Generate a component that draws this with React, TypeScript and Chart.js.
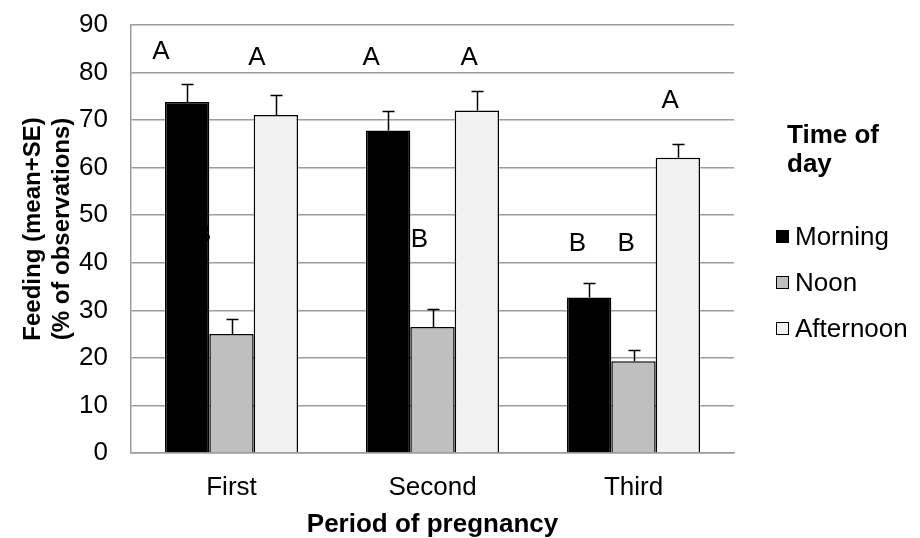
import React, { useEffect, useRef } from "react";
import { Chart, registerables } from "chart.js";

Chart.register(...registerables);

// ---- data ----
const categories = ["First", "Second", "Third"];
const seriesNames = ["Morning", "Noon", "Afternoon"];
const morning = [73.8, 67.8, 32.7];
const noon = [25.0, 26.5, 19.3];
const afternoon = [71.1, 72.0, 62.1];
const morningSE = [3.7, 4.2, 3.0];
const noonSE = [3.1, 3.7, 2.4];
const afternoonSE = [4.1, 4.1, 2.8];
const morningLetters = ["A", "A", "B"];
const noonLetters = ["B", "B", "B"];
const afternoonLetters = ["A", "A", "A"];
const yMin = 0;
const yMax = 90;
const yStep = 10;
const xTitle = "Period of pregnancy";
const yTitleLines = ["Feeding (mean+SE)", "(% of observations)"];
const legendTitleLines = ["Time of", "day"];

// ---- letter annotation placement (dx in category widths, y in axis units) ----
const letterPlacement = [
  [{ dx: -0.351, y: 84.3 }, { dx: -0.305, y: 83.2 }, { dx: -0.279, y: 43.9 }],
  [{ dx: -0.144, y: 45.8 }, { dx: -0.065, y: 44.9 }, { dx: -0.037, y: 43.9 }],
  [{ dx: 0.127, y: 83.2 }, { dx: 0.182, y: 83.2 }, { dx: 0.182, y: 74.0 }],
];

const FONT = "'Liberation Sans', Arial, Helvetica, sans-serif";
const colors = ["#000000", "#bfbfbf", "#f2f2f2"];
const gridColor = "#9c9c9c";

export default function App() {
  const ref = useRef<HTMLCanvasElement>(null);

  useEffect(() => {
    const canvas = ref.current;
    if (!canvas) return;
    const seArrays = [morningSE, noonSE, afternoonSE];
    const letterArrays = [morningLetters, noonLetters, afternoonLetters];

    const lettersPlugin = {
      id: "letters",
      beforeDatasetsDraw(chart: any) {
        const { ctx } = chart;
        const xs = chart.scales.x;
        const ys = chart.scales.y;
        const catW = xs.width / categories.length;
        ctx.save();
        ctx.fillStyle = "#000";
        ctx.font = `26px ${FONT}`;
        ctx.textAlign = "center";
        ctx.textBaseline = "middle";
        letterArrays.forEach((arr, i) => {
          arr.forEach((txt, j) => {
            const p = letterPlacement[i][j];
            const px = xs.getPixelForValue(j) + p.dx * catW;
            const py = ys.getPixelForValue(p.y);
            ctx.fillText(txt, px, py);
          });
        });
        ctx.restore();
      },
    };

    const errorPlugin = {
      id: "errorBars",
      afterDatasetsDraw(chart: any) {
        const { ctx } = chart;
        const ys = chart.scales.y;
        ctx.save();
        ctx.strokeStyle = "#000";
        ctx.lineWidth = 1.5;
        chart.data.datasets.forEach((ds: any, i: number) => {
          const meta = chart.getDatasetMeta(i);
          meta.data.forEach((bar: any, j: number) => {
            const v = ds.data[j] as number;
            const top = ys.getPixelForValue(v + seArrays[i][j]);
            const x = Math.round(bar.x) + 0.5;
            const t = Math.round(top) + 0.5;
            ctx.beginPath();
            ctx.moveTo(x, bar.y);
            ctx.lineTo(x, t);
            ctx.moveTo(x - 6, t);
            ctx.lineTo(x + 6, t);
            ctx.stroke();
          });
        });
        ctx.restore();
      },
    };

    const decorPlugin = {
      id: "decor",
      afterDraw(chart: any) {
        const { ctx, chartArea } = chart;
        ctx.save();
        ctx.fillStyle = "#000";
        // y title
        ctx.font = `bold 24px ${FONT}`;
        ctx.textAlign = "center";
        ctx.textBaseline = "middle";
        const cy = (chartArea.top + chartArea.bottom) / 2 - 10;
        yTitleLines.forEach((line, k) => {
          ctx.save();
          ctx.translate(33.5 + k * 29, cy);
          ctx.rotate(-Math.PI / 2);
          ctx.fillText(line, 0, 0);
          ctx.restore();
        });
        // legend
        const lx = chartArea.right + 53;
        ctx.font = `bold 26px ${FONT}`;
        ctx.textAlign = "left";
        ctx.textBaseline = "alphabetic";
        legendTitleLines.forEach((line, k) => {
          ctx.fillText(line, lx, 143 + k * 29);
        });
        ctx.font = `26px ${FONT}`;
        ctx.textBaseline = "middle";
        chart.data.datasets.forEach((ds: any, i: number) => {
          const cyi = 236.5 + i * 46;
          ctx.fillStyle = ds.backgroundColor;
          ctx.fillRect(lx - 11, cyi - 6.5, 13, 13);
          ctx.strokeStyle = "#000";
          ctx.lineWidth = 1;
          ctx.strokeRect(lx - 10.5, cyi - 6, 12, 12);
          ctx.fillStyle = "#000";
          ctx.fillText(ds.label, lx + 8, cyi + 1);
        });
        ctx.restore();
      },
    };

    const chart = new Chart(canvas, {
      type: "bar",
      data: {
        labels: categories,
        datasets: [morning, noon, afternoon].map((d, i) => ({
          label: seriesNames[i],
          data: d,
          backgroundColor: colors[i],
          borderColor: "#000",
          borderWidth: 1.5,
          categoryPercentage: 0.662,
          barPercentage: 1,
        })),
      },
      options: {
        responsive: false,
        animation: false,
        devicePixelRatio: 1,
        layout: { padding: { left: 0, top: 25, right: 186, bottom: 0 } },
        plugins: {
          legend: { display: false },
          tooltip: { enabled: false },
        },
        scales: {
          x: {
            grid: { display: false, drawTicks: false },
            border: { display: true, color: gridColor, width: 1.5 },
            ticks: {
              color: "#000",
              font: { family: FONT, size: 26, lineHeight: 1.2 },
              padding: 19,
            },
            title: {
              display: true,
              text: xTitle,
              color: "#000",
              font: { family: FONT, size: 26, weight: "bold", lineHeight: 1 },
              padding: 0,
            },
            afterFit(scale: any) {
              scale.height = 85;
              scale.paddingLeft = 0;
              scale.paddingRight = 0;
            },
          },
          y: {
            min: yMin,
            max: yMax,
            ticks: {
              stepSize: yStep,
              color: "#000",
              font: { family: FONT, size: 26 },
              padding: 23,
            },
            grid: { color: gridColor, lineWidth: 1.5, drawTicks: false },
            border: { display: true, color: gridColor, width: 1.5 },
            afterFit(scale: any) {
              scale.width = 131;
              scale.paddingTop = 0;
              scale.paddingBottom = 0;
            },
          },
        },
      },
      plugins: [lettersPlugin, errorPlugin, decorPlugin],
    } as any);

    return () => chart.destroy();
  }, []);

  return (
    <div style={{ position: "absolute", left: 0, top: 0, width: 920, height: 538, background: "#fff" }}>
      <canvas ref={ref} width={920} height={538} style={{ display: "block", width: 920, height: 538 }} />
    </div>
  );
}
